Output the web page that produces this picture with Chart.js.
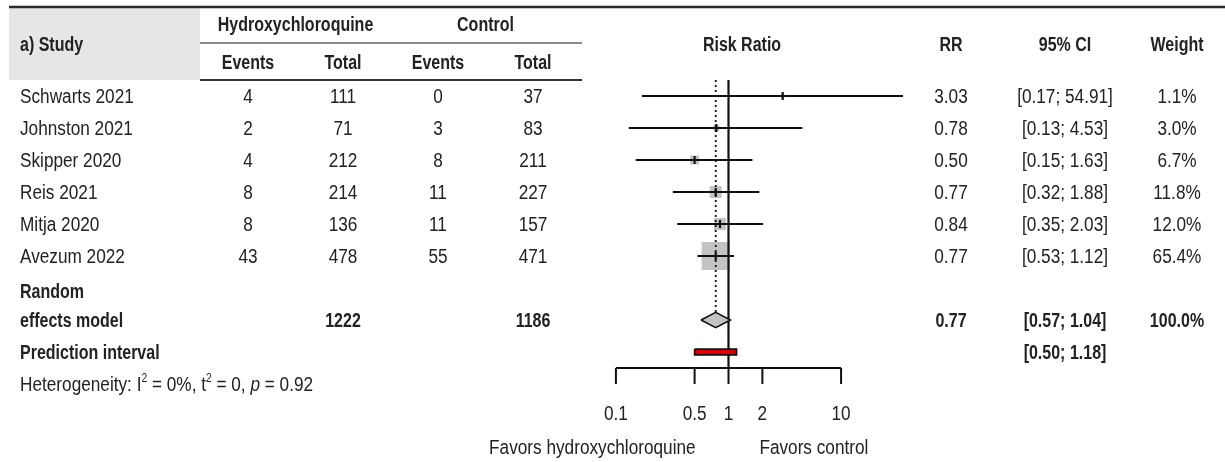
<!DOCTYPE html>
<html><head><meta charset="utf-8">
<script src="https://cdn.jsdelivr.net/npm/chart.js@4/dist/chart.umd.min.js"></script>
<style>html,body{margin:0;padding:0;background:#fff;}canvas{display:block;}</style>
</head><body>
<canvas id="c" width="1225" height="462"></canvas>
<script>
// ---------- data ----------
const studies = ['Schwarts 2021','Johnston 2021','Skipper 2020','Reis 2021','Mitja 2020','Avezum 2022'];
const hcqEvents = [4, 2, 4, 8, 8, 43];
const hcqTotal = [111, 71, 212, 214, 136, 478];
const ctrlEvents = [0, 3, 8, 11, 11, 55];
const ctrlTotal = [37, 83, 211, 227, 157, 471];
const rr = [3.03, 0.78, 0.50, 0.77, 0.84, 0.77];
const ciLow = [0.17, 0.13, 0.15, 0.32, 0.35, 0.53];
const ciHigh = [54.91, 4.53, 1.63, 1.88, 2.03, 1.12];
const weights = [1.1, 3.0, 6.7, 11.8, 12.0, 65.4];
const totals = [1222, 1186];
const pooled = [0.77, 0.57, 1.04];      // RR, lower, upper
const pooledWeight = 100.0;
const predInt = [0.50, 1.18];
const axisTicks = [0.1, 0.5, 1, 2, 10];
const axisTickLabels = ['0.1', '0.5', '1', '2', '10'];

// ---------- layout / style ----------
const FONT = '"Liberation Sans", Arial, Helvetica, sans-serif';
const FS = 20;
const SX_REG = 0.86;       // horizontal condensing (narrow look)
const SX_BOLD = 0.80;
const TXT = '#222';
const LINE = '#111';
const ROW_POOLED = 7, ROW_PRED = 8, ROW_HET = 9;
const fmt2 = v => v.toFixed(2);
const fmtW = v => v.toFixed(1) + '%';

const datasets = [];
// squares (area proportional to weight)
datasets.push({
  type: 'scatter',
  data: studies.map((s, i) => ({x: rr[i], y: i})),
  pointStyle: 'rect',
  pointRadius: weights.map(w => 3.46 * Math.sqrt(w) / Math.SQRT2),
  backgroundColor: '#c3c3c3', borderWidth: 0, order: 6
});
// CI lines
studies.forEach((s, i) => datasets.push({
  type: 'line', data: [{x: ciLow[i], y: i}, {x: ciHigh[i], y: i}],
  borderColor: LINE, borderWidth: 2, pointRadius: 0, order: 4
}));
// estimate ticks
datasets.push({
  type: 'scatter', data: studies.map((s, i) => ({x: rr[i], y: i})),
  pointStyle: 'line', rotation: 90, pointRadius: 4,
  borderColor: LINE, borderWidth: 2.2, order: 3
});
// reference line at RR = 1
datasets.push({
  type: 'line', data: [{x: 1, y: -0.5}, {x: 1, y: 8.5}],
  borderColor: LINE, borderWidth: 2.2, pointRadius: 0, order: 5
});
// dotted line at pooled estimate
datasets.push({
  type: 'line', data: [{x: pooled[0], y: -0.5}, {x: pooled[0], y: ROW_POOLED - 0.24}],
  borderColor: LINE, borderWidth: 1.8, borderDash: [2, 3], pointRadius: 0, order: 5
});
// pooled diamond
datasets.push({
  type: 'line',
  data: [{x: pooled[1], y: ROW_POOLED}, {x: pooled[0], y: ROW_POOLED - 0.24},
         {x: pooled[2], y: ROW_POOLED}, {x: pooled[0], y: ROW_POOLED + 0.24},
         {x: pooled[1], y: ROW_POOLED}],
  fill: 'shape', backgroundColor: '#c3c3c3', borderColor: LINE, borderWidth: 1.6,
  pointRadius: 0, tension: 0, order: 2
});
// prediction interval
datasets.push({
  type: 'line',
  data: [{x: predInt[0], y: ROW_PRED - 0.09}, {x: predInt[1], y: ROW_PRED - 0.09},
         {x: predInt[1], y: ROW_PRED + 0.09}, {x: predInt[0], y: ROW_PRED + 0.09},
         {x: predInt[0], y: ROW_PRED - 0.09}],
  fill: 'shape', backgroundColor: '#e00000', borderColor: LINE, borderWidth: 1.6,
  pointRadius: 0, tension: 0, order: 2
});

function txt(ctx, s, x, y, align, bold, size, italic) {
  const sx = bold ? SX_BOLD : SX_REG;
  ctx.save();
  ctx.font = (italic ? 'italic ' : '') + (bold ? 'bold ' : '') + (size || FS) + 'px ' + FONT;
  ctx.textAlign = align || 'left';
  ctx.textBaseline = 'middle';
  ctx.fillStyle = TXT;
  ctx.translate(x, y);
  ctx.scale(sx, 1);
  ctx.fillText(s, 0, 0);
  const w = ctx.measureText(s).width * sx;
  ctx.restore();
  return w;
}

const tablePlugin = {
  id: 'table',
  beforeDatasetsDraw(chart) {
    const ctx = chart.ctx;
    ctx.save();
    ctx.fillStyle = '#e6e6e6';
    ctx.fillRect(9, 8, 191, 72);
    ctx.restore();
  },
  afterDatasetsDraw(chart) {
    const {ctx, scales: {x, y}} = chart;
    ctx.save();
    // header rules
    ctx.strokeStyle = '#2a2a2a'; ctx.lineWidth = 2.5;
    ctx.beginPath(); ctx.moveTo(9, 7); ctx.lineTo(1225, 7); ctx.stroke();
    ctx.strokeStyle = '#666'; ctx.lineWidth = 1.5;
    ctx.beginPath(); ctx.moveTo(200, 43); ctx.lineTo(582, 43); ctx.stroke();
    ctx.strokeStyle = '#333'; ctx.lineWidth = 1.8;
    ctx.beginPath(); ctx.moveTo(200, 80); ctx.lineTo(582, 80); ctx.stroke();

    // header text
    const cE1 = 248, cT1 = 343, cE2 = 438, cT2 = 533, cRR = 951, cCI = 1065, cW = 1177;
    txt(ctx, 'a) Study', 20, 45, 'left', true);
    txt(ctx, 'Hydroxychloroquine', (cE1 + cT1) / 2, 25, 'center', true);
    txt(ctx, 'Control', (cE2 + cT2) / 2, 25, 'center', true);
    txt(ctx, 'Events', cE1, 63, 'center', true);
    txt(ctx, 'Total', cT1, 63, 'center', true);
    txt(ctx, 'Events', cE2, 63, 'center', true);
    txt(ctx, 'Total', cT2, 63, 'center', true);
    txt(ctx, 'Risk Ratio', 742, 45, 'center', true);
    txt(ctx, 'RR', cRR, 45, 'center', true);
    txt(ctx, '95% CI', cCI, 45, 'center', true);
    txt(ctx, 'Weight', cW, 45, 'center', true);

    // study rows
    studies.forEach((s, i) => {
      const py = y.getPixelForValue(i) + 1;
      txt(ctx, s, 20, py, 'left');
      txt(ctx, String(hcqEvents[i]), cE1, py, 'center');
      txt(ctx, String(hcqTotal[i]), cT1, py, 'center');
      txt(ctx, String(ctrlEvents[i]), cE2, py, 'center');
      txt(ctx, String(ctrlTotal[i]), cT2, py, 'center');
      txt(ctx, fmt2(rr[i]), cRR, py, 'center');
      txt(ctx, '[' + fmt2(ciLow[i]) + '; ' + fmt2(ciHigh[i]) + ']', cCI, py, 'center');
      txt(ctx, fmtW(weights[i]), cW, py, 'center');
    });
    // pooled row
    const pp = y.getPixelForValue(ROW_POOLED) + 1;
    txt(ctx, 'Random', 20, pp - 29, 'left', true);
    txt(ctx, 'effects model', 20, pp, 'left', true);
    txt(ctx, String(totals[0]), cT1, pp, 'center', true);
    txt(ctx, String(totals[1]), cT2, pp, 'center', true);
    txt(ctx, fmt2(pooled[0]), cRR, pp, 'center', true);
    txt(ctx, '[' + fmt2(pooled[1]) + '; ' + fmt2(pooled[2]) + ']', cCI, pp, 'center', true);
    txt(ctx, fmtW(pooledWeight), cW, pp, 'center', true);
    // prediction row
    const pr = y.getPixelForValue(ROW_PRED) + 1;
    txt(ctx, 'Prediction interval', 20, pr, 'left', true);
    txt(ctx, '[' + fmt2(predInt[0]) + '; ' + fmt2(predInt[1]) + ']', cCI, pr, 'center', true);
    // heterogeneity
    const ph = y.getPixelForValue(ROW_HET) + 1;
    let cx = 20;
    cx += txt(ctx, 'Heterogeneity: I', cx, ph, 'left');
    cx += txt(ctx, '2', cx, ph - 6, 'left', false, 12);
    cx += txt(ctx, ' = 0%, t', cx, ph, 'left');
    cx += txt(ctx, '2', cx, ph - 6, 'left', false, 12);
    cx += txt(ctx, ' = 0, ', cx, ph, 'left');
    cx += txt(ctx, 'p', cx, ph, 'left', false, FS, true);
    txt(ctx, ' = 0.92', cx, ph, 'left');

    // x axis
    const ya = y.getPixelForValue(8.5);
    ctx.strokeStyle = LINE; ctx.lineWidth = 2;
    ctx.beginPath();
    ctx.moveTo(x.getPixelForValue(axisTicks[0]), ya);
    ctx.lineTo(x.getPixelForValue(axisTicks[axisTicks.length - 1]), ya);
    axisTicks.forEach(t => {
      const px = x.getPixelForValue(t);
      ctx.moveTo(px, ya); ctx.lineTo(px, ya + 16);
    });
    ctx.stroke();
    axisTicks.forEach((t, i) => txt(ctx, axisTickLabels[i], x.getPixelForValue(t), ya + 46, 'center'));
    txt(ctx, 'Favors hydroxychloroquine', x.getPixelForValue(0.5) + 1, ya + 80, 'right');
    txt(ctx, 'Favors control', x.getPixelForValue(2) - 3, ya + 80, 'left');
    ctx.restore();
  }
};

new Chart(document.getElementById('c'), {
  type: 'scatter',
  data: {datasets},
  options: {
    responsive: false, devicePixelRatio: 1, animation: false,
    layout: {padding: {left: 554, right: 322, top: 80, bottom: 94}},
    scales: {
      x: {type: 'logarithmic', min: Math.pow(10, -1.55), max: Math.pow(10, 1.55), bounds: 'data', display: false},
      y: {type: 'linear', min: -0.5, max: 8.5, reverse: true, bounds: 'data', display: false}
    },
    plugins: {legend: {display: false}, tooltip: {enabled: false}}
  },
  plugins: [tablePlugin]
});
</script>
</body></html>
